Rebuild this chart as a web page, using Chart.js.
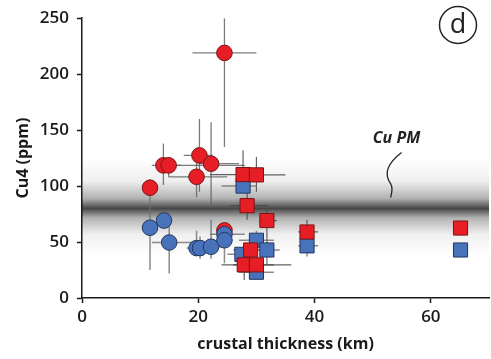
<!DOCTYPE html>
<html>
<head>
<meta charset="utf-8">
<script src="https://cdn.jsdelivr.net/npm/chart.js@4"></script>
<style>
  body { margin: 0; background: #fff; }
  canvas { display: block; }
</style>
</head>
<body>
<canvas id="chart" width="491" height="359"></canvas>
<script>
// axis ticks
const xTicks = [0, 20, 40, 60];
const yTicks = [0, 50, 100, 150, 200, 250];

// red circles
const redCircleX = [11.7, 14.0, 14.9, 20.2, 22.2, 19.7, 24.5, 24.5];
const redCircleY = [98.5, 118.5, 118.5, 127.4, 120, 108.3, 219, 60.4];
const redCircleXRange = [null, [12, 17], [14.9, 28], [17.5, 22.5], [20, 27], [15, 25], [19, 30], null];
const redCircleYRange = [[92, 106], [101, 138], [108, 126], [95, 160], [84, 157], [90, 128], [135, 250], [52, 67]];

// blue circles
const blueCircleX = [11.7, 14.1, 15.0, 19.7, 20.3, 22.2, 24.5, 24.5];
const blueCircleY = [62.8, 69.2, 49.6, 44.6, 44.6, 45.8, 57, 51.6];
const blueCircleXRange = [null, null, [12, 19], [18, 22], [18.5, 22.5], [20, 24], [22, 28], null];
const blueCircleYRange = [[25, 98], [62, 78], [22, 77], [38, 60], [35, 55], [35, 70], [50, 66], [31, 60]];

// red squares
const redSquareX = [27.7, 30.0, 28.4, 31.8, 38.7, 65.1, 29.0, 27.9, 30.0];
const redSquareY = [110.3, 110, 82.5, 69.2, 59, 62.5, 42.9, 29.6, 29.6];
const redSquareXRange = [[22, 31], [27, 35], [25.5, 32], [30.5, 33.5], [37.2, 40.6], null, [26, 31], [24, 36], [26, 33]];
const redSquareYRange = [[100, 132], [95, 126], [70, 95], [43, 79], [51, 70], [56, 67], [28, 55], [16, 40], [18, 44]];

// blue squares
const blueSquareX = [27.7, 30.0, 31.8, 38.7, 65.1, 30.0, 27.5];
const blueSquareY = [100, 51.6, 42.9, 46.6, 42.9, 23, 39];
const blueSquareXRange = [[24, 30], [27, 33], [29.5, 34], [37.2, 40.6], null, [27, 33], [25, 30]];
const blueSquareYRange = [[94, 104], [45, 60], [30, 50], [37, 52], [38, 48], [18, 30], [33, 45]];

// primitive mantle Cu band
const cuPM = 80;
const cuPMLow = 38;
const cuPMHigh = 125;

const RED = 'rgb(232,30,38)';
const RED_EDGE = 'rgb(120,20,20)';
const BLUE = 'rgb(72,114,186)';
const BLUE_EDGE = 'rgb(35,55,95)';
const FONT = "'Open Sans', sans-serif";

function pts(xs, ys) {
  return xs.map((x, i) => ({ x: x, y: ys[i] }));
}

// grey band + error bars drawn under the markers
const underlay = {
  id: 'underlay',
  beforeDatasetsDraw(chart) {
    const { ctx, chartArea: a, scales: { x, y } } = chart;
    ctx.save();
    ctx.beginPath();
    ctx.rect(a.left, a.top, a.right - a.left, a.bottom - a.top);
    ctx.clip();

    const top = y.getPixelForValue(cuPMHigh);
    const bot = y.getPixelForValue(cuPMLow);
    const mid = y.getPixelForValue(cuPM);
    const g = ctx.createLinearGradient(0, top, 0, bot);
    const m = (mid - top) / (bot - top);
    g.addColorStop(0, 'rgba(0,0,0,0)');
    g.addColorStop(m * 0.45, 'rgba(0,0,0,0.06)');
    g.addColorStop(m * 0.8, 'rgba(0,0,0,0.3)');
    g.addColorStop(m, 'rgba(0,0,0,0.72)');
    g.addColorStop(m + (1 - m) * 0.2, 'rgba(0,0,0,0.3)');
    g.addColorStop(m + (1 - m) * 0.55, 'rgba(0,0,0,0.06)');
    g.addColorStop(1, 'rgba(0,0,0,0)');
    ctx.fillStyle = g;
    ctx.fillRect(a.left, top, a.right - a.left, bot - top);

    chart.data.datasets.forEach((ds) => {
      ctx.strokeStyle = ds.errColor;
      ctx.lineWidth = ds.errWidth;
      ds.data.forEach((p, i) => {
        const px = x.getPixelForValue(p.x);
        const py = y.getPixelForValue(p.y);
        const xr = ds.xRange[i];
        const yr = ds.yRange[i];
        ctx.beginPath();
        if (xr) {
          ctx.moveTo(x.getPixelForValue(xr[0]), py);
          ctx.lineTo(x.getPixelForValue(xr[1]), py);
        }
        if (yr) {
          ctx.moveTo(px, y.getPixelForValue(yr[0]));
          ctx.lineTo(px, y.getPixelForValue(yr[1]));
        }
        ctx.stroke();
      });
    });
    ctx.restore();
  },
  afterDraw(chart) {
    const { ctx, scales: { x, y } } = chart;
    ctx.save();
    // Cu PM label with its curly leader
    const lx = x.getPixelForValue(54.1);
    const ly = y.getPixelForValue(142.5);
    ctx.fillStyle = '#222';
    ctx.font = "italic 700 16px " + FONT;
    ctx.textAlign = 'center';
    ctx.textBaseline = 'middle';
    ctx.fillText('Cu PM', lx, ly);
    ctx.strokeStyle = '#222';
    ctx.lineWidth = 1.3;
    ctx.beginPath();
    ctx.moveTo(lx + 5, ly + 14);
    ctx.bezierCurveTo(lx - 8, ly + 24, lx - 14, ly + 34, lx - 6, ly + 45);
    ctx.bezierCurveTo(lx - 3, ly + 50, lx - 5, ly + 55, lx - 6, ly + 59);
    ctx.stroke();

    // panel letter
    ctx.lineWidth = 1.5;
    ctx.beginPath();
    ctx.arc(458, 25, 18.5, 0, Math.PI * 2);
    ctx.stroke();
    ctx.font = "27px " + FONT;
    ctx.fillText('d', 458, 25);
    ctx.restore();
  }
};

new Chart(document.getElementById('chart'), {
  type: 'scatter',
  data: {
    datasets: [
      {
        label: 'red squares',
        data: pts(redSquareX, redSquareY),
        xRange: redSquareXRange, yRange: redSquareYRange,
        errColor: 'rgba(70,70,70,0.85)', errWidth: 1.2,
        pointStyle: 'rect', pointRadius: 10, pointHoverRadius: 10,
        backgroundColor: RED, borderColor: RED_EDGE, borderWidth: 1
      },
      {
        label: 'blue squares',
        data: pts(blueSquareX, blueSquareY),
        xRange: blueSquareXRange, yRange: blueSquareYRange,
        errColor: 'rgba(110,110,110,0.8)', errWidth: 1.5,
        pointStyle: 'rect', pointRadius: 10, pointHoverRadius: 10,
        backgroundColor: BLUE, borderColor: BLUE_EDGE, borderWidth: 1
      },
      {
        label: 'blue circles',
        data: pts(blueCircleX, blueCircleY),
        xRange: blueCircleXRange, yRange: blueCircleYRange,
        errColor: 'rgba(110,110,110,0.8)', errWidth: 1.5,
        pointStyle: 'circle', pointRadius: 7.8, pointHoverRadius: 7.8,
        backgroundColor: BLUE, borderColor: BLUE_EDGE, borderWidth: 1
      },
      {
        label: 'red circles',
        data: pts(redCircleX, redCircleY),
        xRange: redCircleXRange, yRange: redCircleYRange,
        errColor: 'rgba(90,90,90,0.8)', errWidth: 1.3,
        pointStyle: 'circle', pointRadius: 7.8, pointHoverRadius: 7.8,
        backgroundColor: RED, borderColor: RED_EDGE, borderWidth: 1
      }
    ]
  },
  options: {
    responsive: false,
    animation: false,
    devicePixelRatio: 1,
    layout: { autoPadding: false, padding: { top: 14, right: 2, left: 0, bottom: 0 } },
    plugins: { legend: { display: false }, tooltip: { enabled: false } },
    scales: {
      x: {
        type: 'linear',
        min: 0, max: 70,
        afterBuildTicks: (s) => { s.ticks = xTicks.map(v => ({ value: v })); },
        afterFit: (s) => { s.height = 61; },
        border: { color: '#1a1a1a', width: 1.5 },
        grid: { drawOnChartArea: false, drawTicks: true, tickLength: 5, color: '#1a1a1a', tickWidth: 1.5 },
        ticks: { color: '#1a1a1a', padding: 4, font: { family: FONT, size: 17, weight: '600' } },
        title: {
          display: true, text: 'crustal thickness (km)', color: '#1a1a1a',
          padding: { top: 0, bottom: 5 },
          font: { family: FONT, size: 16, weight: '700' }
        }
      },
      y: {
        type: 'linear',
        min: 0, max: 250,
        afterBuildTicks: (s) => { s.ticks = yTicks.map(v => ({ value: v })); },
        afterFit: (s) => { s.width = 82; },
        border: { color: '#1a1a1a', width: 1.5 },
        grid: { drawOnChartArea: false, drawTicks: true, tickLength: 5, color: '#1a1a1a', tickWidth: 1.5 },
        ticks: { color: '#1a1a1a', padding: 8, font: { family: FONT, size: 17, weight: '600' } },
        title: {
          display: true, text: 'Cu4 (ppm)', color: '#1a1a1a',
          padding: { top: 14, bottom: 0 },
          font: { family: FONT, size: 16, weight: '700' }
        }
      }
    }
  },
  plugins: [underlay]
});
</script>
</body>
</html>
